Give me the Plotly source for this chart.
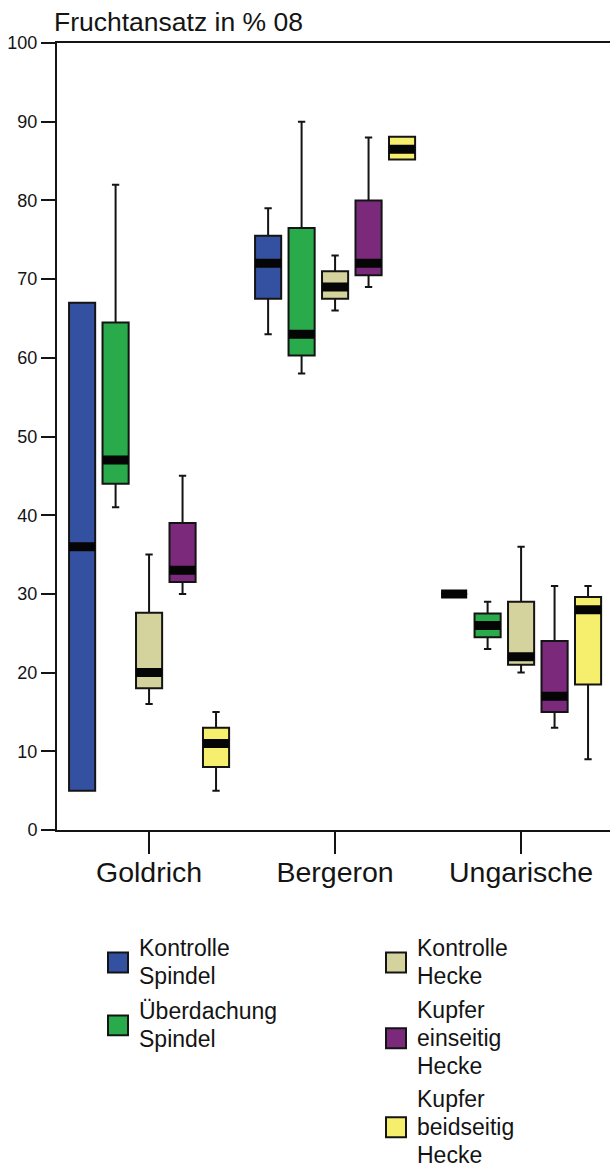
import plotly.graph_objects as go

# ---------------- data ----------------
categories = ["Goldrich", "Bergeron", "Ungarische"]

series_names = [
    "Kontrolle Spindel",
    "Überdachung Spindel",
    "Kontrolle Hecke",
    "Kupfer einseitig Hecke",
    "Kupfer beidseitig Hecke",
]
legend_lines = [
    ["Kontrolle", "Spindel"],
    ["Überdachung", "Spindel"],
    ["Kontrolle", "Hecke"],
    ["Kupfer", "einseitig", "Hecke"],
    ["Kupfer", "beidseitig", "Hecke"],
]
colors = ["#3451A1", "#29AA4B", "#D5D39D", "#7B2A7B", "#F6EE6D"]

# per series, one value per category (Goldrich, Bergeron, Ungarische)
lower_whisker = [
    [5, 63, 30],
    [41, 58, 23],
    [16, 66, 20],
    [30, 69, 13],
    [5, 85.2, 9],
]
q1_values = [
    [5, 67.5, 30],
    [44, 60.3, 24.5],
    [18, 67.5, 21],
    [31.5, 70.5, 15],
    [8, 85.2, 18.5],
]
median_values = [
    [36, 72, 30],
    [47, 63, 26],
    [20, 69, 22],
    [33, 72, 17],
    [11, 86.5, 28],
]
q3_values = [
    [67, 75.5, 30],
    [64.5, 76.5, 27.5],
    [27.6, 71, 29],
    [39, 80, 24],
    [13, 88.1, 29.6],
]
upper_whisker = [
    [67, 79, 30],
    [82, 90, 29],
    [35, 73, 36],
    [45, 88, 31],
    [15, 88.1, 31],
]

title_text = "Fruchtansatz in % 08"

# ---------------- layout constants ----------------
W, H = 610, 1167
ML, MR, MT, MB = 57, 0, 43, 336.5
PW = W - ML - MR
PH = H - MT - MB
FONT = "Liberation Sans, Arial, sans-serif"
INK = "#141414"


def px_x(px):
    return (px - ML) / PW


def px_y(py):
    return (H - MB - py) / PH


fig = go.Figure()

# boxes
for i, name in enumerate(series_names):
    fig.add_trace(
        go.Box(
            x=categories,
            q1=q1_values[i],
            median=median_values[i],
            q3=q3_values[i],
            lowerfence=lower_whisker[i],
            upperfence=upper_whisker[i],
            name=name,
            offsetgroup=str(i),
            fillcolor=colors[i],
            line=dict(color=INK, width=2),
            whiskerwidth=0.28,
            showlegend=False,
            hoverinfo="skip",
        )
    )

# thick median bands
for i, name in enumerate(series_names):
    fig.add_trace(
        go.Box(
            x=categories,
            q1=median_values[i],
            median=median_values[i],
            q3=median_values[i],
            lowerfence=median_values[i],
            upperfence=median_values[i],
            name=name + " median",
            offsetgroup=str(i),
            fillcolor="#000000",
            line=dict(color="#050505", width=9),
            whiskerwidth=0,
            showlegend=False,
            hoverinfo="skip",
        )
    )

# legend drawn as shapes + annotations
legend_pos = [  # (square left px, square centre y px)
    (108, 963),
    (108, 1026),
    (386, 963),
    (386, 1039),
    (386, 1128),
]
LINE_H = 28
shapes = []
annotations = []
for i, (lx, cy) in enumerate(legend_pos):
    shapes.append(
        dict(
            type="rect",
            xref="paper",
            yref="paper",
            x0=px_x(lx),
            x1=px_x(lx + 20),
            y0=px_y(cy + 10),
            y1=px_y(cy - 10),
            fillcolor=colors[i],
            line=dict(color=INK, width=2),
        )
    )
    n = len(legend_lines[i])
    for k, line in enumerate(legend_lines[i]):
        annotations.append(
            dict(
                xref="paper",
                yref="paper",
                x=px_x(lx + 29),
                y=px_y(cy + (k - (n - 1) / 2) * LINE_H),
                xanchor="left",
                yanchor="middle",
                align="left",
                showarrow=False,
                text=line,
                font=dict(family=FONT, size=23, color=INK),
            )
        )

annotations.append(
    dict(
        xref="paper",
        yref="paper",
        x=px_x(52),
        y=px_y(22),
        xanchor="left",
        yanchor="middle",
        showarrow=False,
        text=title_text,
        font=dict(family=FONT, size=26.5, color=INK),
    )
)

fig.update_layout(
    width=W,
    height=H,
    autosize=False,
    margin=dict(l=ML, r=MR, t=MT, b=MB, pad=0),
    paper_bgcolor="white",
    plot_bgcolor="white",
    boxmode="group",
    boxgap=0.1,
    boxgroupgap=0.22,
    showlegend=False,
    shapes=shapes,
    annotations=annotations,
    font=dict(family=FONT, color=INK),
)

fig.update_xaxes(
    type="category",
    categoryorder="array",
    categoryarray=categories,
    range=[-0.495, 2.478],
    showline=True,
    linecolor=INK,
    linewidth=2,
    mirror=True,
    ticks="outside",
    ticklen=22,
    tickwidth=2,
    tickcolor=INK,
    ticklabelstandoff=-6,
    showgrid=False,
    zeroline=False,
    tickfont=dict(family=FONT, size=28.5, color=INK),
)
fig.update_yaxes(
    range=[0, 100],
    dtick=10,
    tick0=0,
    showline=True,
    linecolor=INK,
    linewidth=2,
    ticks="outside",
    ticklen=14,
    tickwidth=2,
    tickcolor=INK,
    showgrid=False,
    zeroline=False,
    tickfont=dict(family=FONT, size=18, color=INK),
)

fig.write_html("out.html")
